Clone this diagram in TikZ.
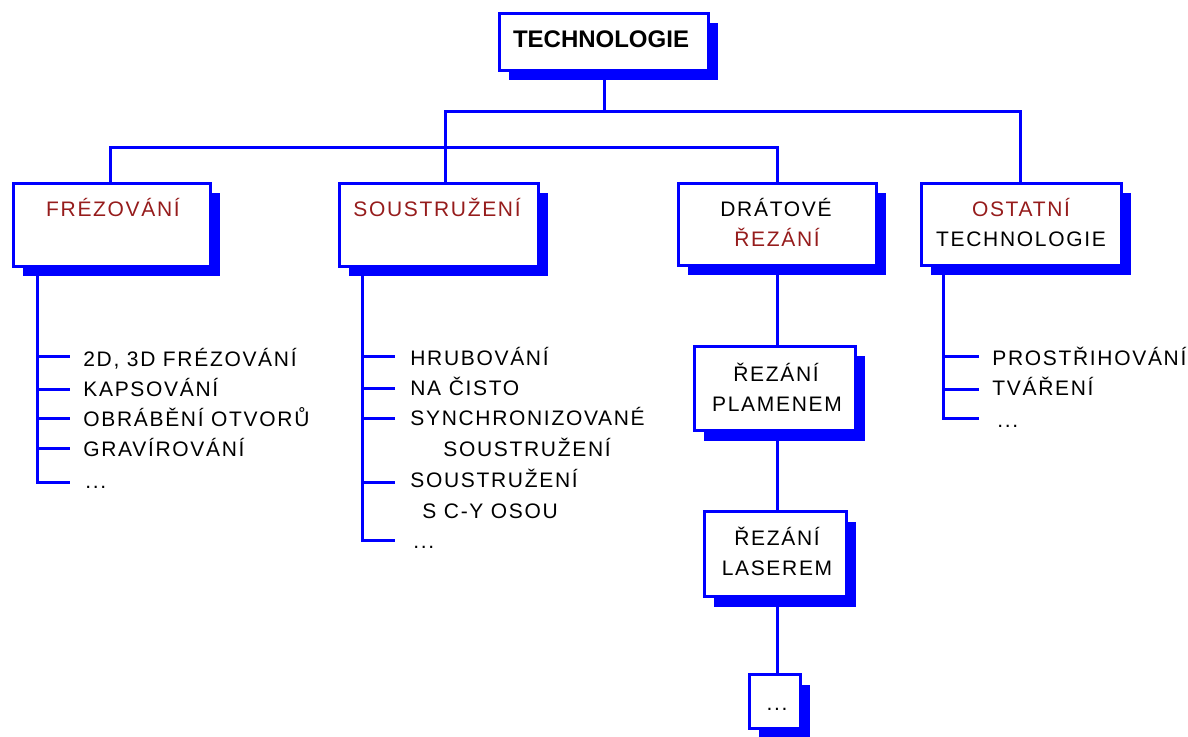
\documentclass[tikz,border=0pt]{standalone}
\usepackage{fontspec}
\setmainfont{Liberation Sans}[LetterSpace=8]
\newfontfamily\titlefont{Liberation Sans}
\usetikzlibrary{shadows}
\definecolor{lineblue}{RGB}{0,0,255}
\definecolor{darkmaroon}{RGB}{150,28,28}
\tikzset{
 box/.style={draw=lineblue, line width=1.5pt, fill=white, inner sep=0pt,
   drop shadow={shadow xshift=4.5pt, shadow yshift=-5pt, fill=lineblue, opacity=1}},
 conn/.style={draw=lineblue, line width=1.5pt},
 lbl/.style={anchor=base, inner sep=0pt, font=\fontsize{10.5}{12}\selectfont},
 item/.style={anchor=base west, inner sep=0pt, font=\fontsize{10.5}{12}\selectfont},
 hl/.style={text=darkmaroon}
}
\begin{document}
\begin{tikzpicture}[x=0.5pt,y=-0.5pt]
\path[fill=white,use as bounding box] (0,0) rectangle (1188,737);
% boxes
\node[box, minimum width=104.5pt, minimum height=28.5pt] (tech) at (604,42) {};
\node[box, minimum width=98.5pt, minimum height=41.5pt] (frez) at (112,225) {};
\node[box, minimum width=99.5pt, minimum height=41.5pt] (sous) at (439,225) {};
\node[box, minimum width=99pt, minimum height=41pt] (drat) at (777.5,224.5) {};
\node[box, minimum width=100pt, minimum height=41pt] (ost) at (1021.5,224.5) {};
\node[box, minimum width=80.5pt, minimum height=42pt] (plam) at (775,388.5) {};
\node[box, minimum width=71pt, minimum height=42.5pt] (laser) at (775.5,554) {};
\node[box, minimum width=25.5pt, minimum height=27pt] (more) at (775,701.5) {};
% box texts
\node[anchor=base, inner sep=0pt, font=\titlefont\bfseries\fontsize{12}{14}\selectfont] (techt) at (601,48) {TECHNOLOGIE};
\node[lbl,hl] (frezt) at (113,217) {FRÉZOVÁNÍ};
\node[lbl,hl] (sourt) at (437,217) {SOUSTRUŽENÍ};
\node[lbl] (dratt1) at (776,217) {DRÁTOVÉ};
\node[lbl,hl] (dratt2) at (777,247) {ŘEZÁNÍ};
\node[lbl,hl] (ostt1) at (1021,217) {OSTATNÍ};
\node[lbl] (ostt2) at (1021,247) {TECHNOLOGIE};
\node[lbl] (plamt1) at (776,382) {ŘEZÁNÍ};
\node[lbl] (plamt2) at (777,412) {PLAMENEM};
\node[lbl] (lasert1) at (777,545) {ŘEZÁNÍ};
\node[lbl] (lasert2) at (777,575) {LASEREM};
\node[lbl] (moret) at (777,710) {...};
% top connectors
\coordinate (ja) at (604,112);
\coordinate (jl) at (445,112);
\coordinate (jr) at (1020,112);
\coordinate (jbl) at (110,148);
\coordinate (jbr) at (777,148);
\draw[conn] (tech.south) -- (ja);
\draw[conn] (jl |- sous.north) -- (jl) -- (jr) -- (jr |- ost.north);
\draw[conn] (jbl |- frez.north) -- (jbl) -- (jbr) -- (jbr |- drat.north);
% wire cutting chain
\draw[conn] (drat.south -| jbr) -- (jbr |- plam.north);
\draw[conn] (plam.south -| jbr) -- (jbr |- laser.north);
\draw[conn] (laser.south -| jbr) -- (jbr |- more.north);
% milling list
\coordinate (fx) at (37,0);
\coordinate (fa1) at (70,357);
\coordinate (fa2) at (70,390);
\coordinate (fa3) at (70,419);
\coordinate (fa4) at (70,448);
\coordinate (fa5) at (70,482);
\draw[conn] (frez.south -| fx) |- (fa5);
\foreach \i in {1,...,4} \draw[conn] (fa\i -| fx) -- (fa\i);
\node[item] (f1) at (83,367) {2D, 3D FRÉZOVÁNÍ};
\node[item] (f2) at (83,397) {KAPSOVÁNÍ};
\node[item] (f3) at (83,427) {OBRÁBĚNÍ OTVORŮ};
\node[item] (f4) at (83,457) {GRAVÍROVÁNÍ};
\node[item] (f5) at (85,488) {...};
% turning list
\coordinate (sx) at (362,0);
\coordinate (sa1) at (395,357);
\coordinate (sa2) at (395,389);
\coordinate (sa3) at (395,419);
\coordinate (sa4) at (395,482);
\coordinate (sa5) at (395,540);
\draw[conn] (sous.south -| sx) |- (sa5);
\foreach \i in {1,...,4} \draw[conn] (sa\i -| sx) -- (sa\i);
\node[item] (s1) at (410,365) {HRUBOVÁNÍ};
\node[item] (s2) at (410,395) {NA ČISTO};
\node[item] (s3) at (410,425) {SYNCHRONIZOVANÉ};
\node[item] (s3b) at (443,457) {SOUSTRUŽENÍ};
\node[item] (s4) at (410,487) {SOUSTRUŽENÍ};
\node[item] (s4b) at (422,518) {S C-Y OSOU};
\node[item] (s5) at (413,548) {...};
% other list
\coordinate (ox) at (943,0);
\coordinate (oa1) at (979,357);
\coordinate (oa2) at (979,390);
\coordinate (oa3) at (979,419);
\draw[conn] (ost.south -| ox) |- (oa3);
\foreach \i in {1,2} \draw[conn] (oa\i -| ox) -- (oa\i);
\node[item] (o1) at (992,365) {PROSTŘIHOVÁNÍ};
\node[item] (o2) at (992,395) {TVÁŘENÍ};
\node[item] (o3) at (997,428) {...};
\end{tikzpicture}
\end{document}
